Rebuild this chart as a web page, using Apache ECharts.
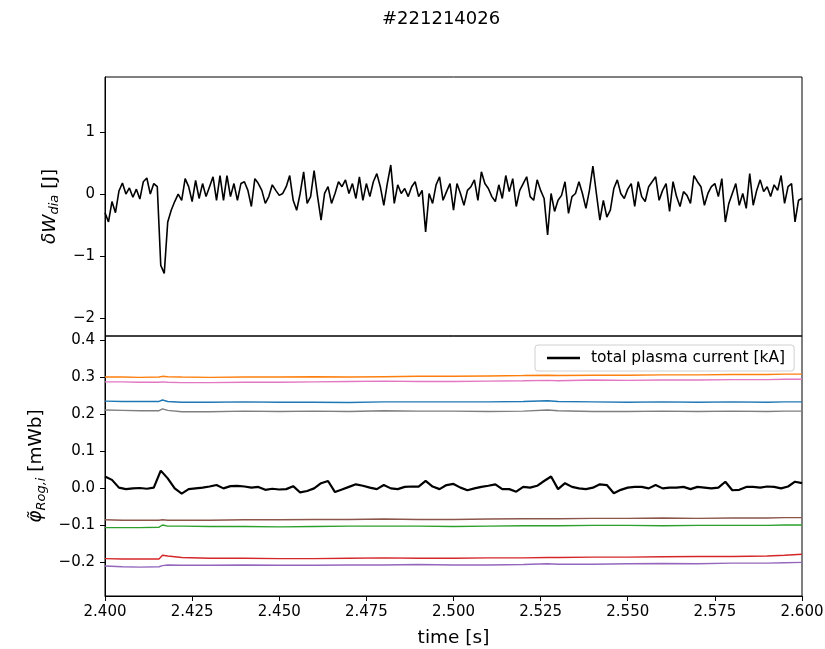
<!DOCTYPE html>
<html>
<head>
<meta charset="utf-8">
<script src="https://cdn.jsdelivr.net/npm/echarts@6/dist/echarts.min.js"></script>
<style>html,body{margin:0;padding:0;background:#fff}#c{width:825px;height:649px}</style>
</head>
<body>
<div id="c"></div>
<script>
// ---------- DATA ----------
const shotTitle = '#221214026';
const tStart = 2.400, topStep = 0.001, botStep = 0.002;
// delta W_dia [J], sampled every 1 ms from 2.400 s
const wDia = [
-0.30,-0.45,-0.12,-0.30,0.05,0.18,0.00,0.10,-0.05,0.08,
-0.08,0.20,0.26,0.00,0.17,0.12,-1.15,-1.28,-0.45,-0.26,
-0.12,0.00,-0.10,0.25,0.12,-0.12,0.22,-0.07,0.17,-0.04,
0.12,0.28,-0.10,0.30,-0.10,0.30,-0.04,0.17,-0.10,0.17,
0.20,0.06,-0.20,0.25,0.17,0.06,-0.15,-0.04,0.15,0.06,
-0.02,0.01,0.12,0.30,-0.10,-0.26,0.01,0.36,-0.15,-0.04,
0.38,-0.04,-0.42,0.01,0.12,-0.15,0.01,0.20,0.12,0.23,
0.01,0.17,-0.07,0.28,-0.10,0.17,-0.04,0.20,0.33,0.12,
-0.18,0.17,0.47,-0.15,0.15,0.01,0.09,-0.04,0.12,0.20,
-0.04,0.06,-0.61,0.01,-0.15,0.15,0.28,-0.10,0.04,0.17,
-0.26,0.17,0.01,-0.18,0.06,0.12,0.23,-0.10,0.36,0.17,
0.09,-0.04,-0.12,0.15,-0.07,0.30,0.04,0.25,-0.20,0.06,
0.17,0.28,-0.04,-0.10,0.23,0.06,-0.07,-0.66,0.01,-0.28,
-0.10,-0.02,0.20,-0.31,-0.04,0.01,0.20,0.01,-0.23,0.06,
0.45,0.01,-0.42,-0.10,-0.37,-0.26,0.09,0.23,0.01,-0.07,
0.08,0.17,-0.20,0.20,-0.04,-0.12,0.12,0.20,0.28,-0.10,
0.06,0.17,-0.28,0.20,-0.04,-0.20,0.04,-0.02,-0.15,0.30,
0.20,0.12,-0.18,0.01,0.12,0.17,-0.04,0.25,-0.45,-0.15,
0.01,0.17,-0.18,0.01,-0.23,0.33,-0.18,0.06,0.23,0.04,
0.12,-0.04,0.15,0.06,0.30,-0.15,0.12,0.17,-0.45,-0.10,
-0.07
];
// total plasma current trace (bottom panel), sampled every 2 ms from 2.400 s
const ipTrace = [
0.032,0.023,0.002,-0.002,0.000,0.001,-0.001,0.002,0.048,0.027,
0.000,-0.014,-0.002,0.000,0.002,0.005,0.009,0.000,0.006,0.007,
0.005,0.002,0.004,-0.004,-0.001,-0.003,-0.002,0.006,-0.011,-0.007,
0.000,0.014,0.020,-0.010,-0.003,0.004,0.011,0.007,0.002,-0.002,
0.009,0.000,-0.002,0.004,0.005,0.005,0.020,0.005,-0.002,0.009,
0.012,0.002,-0.005,0.000,0.004,0.007,0.011,-0.002,-0.002,-0.009,
0.004,0.002,0.007,0.020,0.032,-0.002,0.014,0.004,0.000,-0.002,
0.002,0.011,0.009,-0.013,-0.004,0.002,0.004,0.004,0.000,0.009,
0.000,0.002,0.002,0.004,-0.002,0.004,0.002,0.000,0.002,0.018,
-0.005,-0.004,0.004,0.004,0.002,0.005,0.004,0.000,0.005,0.018,
0.014
];
// Rogowski coil flux traces [mWb]
const rogTimes = [2.400,2.405,2.410,2.4155,2.4165,2.418,2.422,2.430,2.440,2.450,2.460,2.470,2.480,2.490,2.500,2.510,2.520,2.527,2.530,2.540,2.550,2.560,2.570,2.580,2.590,2.595,2.600];
const rogBlue   = [0.236,0.235,0.235,0.235,0.239,0.235,0.233,0.233,0.234,0.233,0.233,0.232,0.234,0.234,0.234,0.234,0.235,0.237,0.235,0.234,0.233,0.234,0.233,0.234,0.233,0.234,0.234];
const rogOrange = [0.301,0.301,0.300,0.301,0.303,0.302,0.301,0.300,0.301,0.301,0.302,0.301,0.302,0.303,0.303,0.304,0.305,0.306,0.305,0.306,0.306,0.307,0.307,0.308,0.308,0.309,0.309];
const rogGreen  = [-0.106,-0.106,-0.106,-0.105,-0.099,-0.102,-0.102,-0.103,-0.103,-0.104,-0.103,-0.102,-0.102,-0.102,-0.103,-0.102,-0.101,-0.101,-0.101,-0.100,-0.100,-0.101,-0.100,-0.100,-0.100,-0.099,-0.099];
const rogRed    = [-0.190,-0.191,-0.191,-0.191,-0.181,-0.183,-0.187,-0.189,-0.189,-0.190,-0.190,-0.189,-0.188,-0.189,-0.189,-0.188,-0.188,-0.187,-0.187,-0.186,-0.186,-0.185,-0.184,-0.184,-0.183,-0.181,-0.178];
const rogPurple = [-0.210,-0.212,-0.213,-0.212,-0.209,-0.207,-0.208,-0.208,-0.207,-0.208,-0.208,-0.207,-0.207,-0.206,-0.207,-0.207,-0.206,-0.204,-0.205,-0.205,-0.204,-0.203,-0.204,-0.202,-0.202,-0.201,-0.200];
const rogBrown  = [-0.085,-0.086,-0.086,-0.086,-0.085,-0.086,-0.086,-0.086,-0.085,-0.085,-0.084,-0.084,-0.083,-0.084,-0.084,-0.083,-0.082,-0.082,-0.082,-0.081,-0.081,-0.080,-0.081,-0.080,-0.080,-0.079,-0.079];
const rogPink   = [0.288,0.288,0.287,0.287,0.288,0.287,0.286,0.286,0.287,0.287,0.288,0.289,0.290,0.289,0.289,0.290,0.291,0.292,0.291,0.293,0.292,0.293,0.293,0.294,0.294,0.295,0.295];
const rogGray   = [0.212,0.211,0.210,0.210,0.215,0.211,0.207,0.207,0.209,0.208,0.209,0.208,0.210,0.209,0.209,0.208,0.209,0.212,0.210,0.208,0.208,0.209,0.208,0.209,0.208,0.209,0.209];
const xTicks = [2.400,2.425,2.450,2.475,2.500,2.525,2.550,2.575,2.600];
const yTicksTop = [-2,-1,0,1];
const yTicksBot = [-0.2,-0.1,0.0,0.1,0.2,0.3,0.4];
const ipName = 'total plasma current [kA]';

// ---------- CHART ----------
const FONT = 'DejaVu Sans';
const minus = s => String(s).replace('-', '\u2212');
const sample = (arr, step) => arr.map((v, i) => [+(tStart + i * step).toFixed(4), v]);
const pair = (ts, vs) => ts.map((t, i) => [t, vs[i]]);

const chart = echarts.init(document.getElementById('c'), null, {renderer: 'canvas'});
const grids = [
  {left: 105, top: 77, width: 697, height: 259},
  {left: 105, top: 336, width: 697, height: 260}
].map(g => Object.assign(g, {show: true, borderColor: '#000', borderWidth: 1, backgroundColor: 'transparent',
  containLabel: false, outerBoundsMode: 'none'}));

const tickStyle = {show: true, inside: false, length: 5, lineStyle: {color: '#000', width: 1}};
const labelStyle = {color: '#000', fontFamily: FONT, fontSize: 15};

const rogSeries = [
  ['#1f77b4', rogBlue], ['#ff7f0e', rogOrange], ['#2ca02c', rogGreen], ['#d62728', rogRed],
  ['#9467bd', rogPurple], ['#8c564b', rogBrown], ['#e377c2', rogPink], ['#7f7f7f', rogGray]
].map(([c, d], k) => ({
  type: 'line', name: 'rog' + k, xAxisIndex: 1, yAxisIndex: 1, data: pair(rogTimes, d),
  showSymbol: false, symbol: 'none', lineStyle: {color: c, width: 1.4}, itemStyle: {color: c},
  silent: true, animation: false, z: 2
}));

chart.setOption({
  animation: false,
  backgroundColor: '#fff',
  title: {text: shotTitle, left: 377, top: 5, textStyle: {fontFamily: FONT, fontSize: 18, fontWeight: 'normal', color: '#000'}},
  grid: grids,
  legend: {
    data: [ipName], left: 535, top: 345, icon: 'rect', itemWidth: 33, itemHeight: 2.5,
    padding: [5, 9, 5, 12], backgroundColor: '#fff', borderColor: '#d0d0d0', borderWidth: 1, borderRadius: 3,
    textStyle: {fontFamily: FONT, fontSize: 15.5, color: '#000', padding: [0, 0, 0, 6]}
  },
  xAxis: [
    {type: 'value', gridIndex: 0, min: 2.4, max: 2.6, axisLabel: {show: false}, axisTick: {show: false}, axisLine: {show: false}, splitLine: {show: false}},
    {type: 'value', gridIndex: 1, min: 2.4, max: 2.6,
     axisLine: {show: true, onZero: false, lineStyle: {color: '#000'}},
     axisTick: Object.assign({customValues: xTicks}, tickStyle),
     axisLabel: Object.assign({customValues: xTicks, margin: 9, formatter: v => v.toFixed(3)}, labelStyle),
     splitLine: {show: false},
     name: 'time [s]', nameLocation: 'middle', nameGap: 33,
     nameTextStyle: {fontFamily: FONT, fontSize: 18.5, color: '#000'}}
  ],
  yAxis: [
    {type: 'value', gridIndex: 0, min: -2.29, max: 1.89,
     axisLine: {show: true, onZero: false, lineStyle: {color: '#000'}},
     axisTick: Object.assign({customValues: yTicksTop}, tickStyle),
     axisLabel: Object.assign({customValues: yTicksTop, margin: 10, formatter: v => minus(Math.round(v))}, labelStyle),
     splitLine: {show: false},
     name: '{it|δW}{sub|dia} {n|[J]}', nameLocation: 'middle', nameGap: 44, nameMoveOverlap: false,
     nameTextStyle: {fontFamily: FONT, fontSize: 18.5, color: '#000',
       rich: {it: {fontFamily: FONT, fontSize: 18.5, fontStyle: 'italic', color: '#000'},
              sub: {fontFamily: FONT, fontSize: 13, fontStyle: 'italic', color: '#000', padding: [9, 0, 0, 0]},
              n: {fontFamily: FONT, fontSize: 18.5, color: '#000'}}}},
    {type: 'value', gridIndex: 1, min: -0.291, max: 0.412,
     axisLine: {show: true, onZero: false, lineStyle: {color: '#000'}},
     axisTick: Object.assign({customValues: yTicksBot}, tickStyle),
     axisLabel: Object.assign({customValues: yTicksBot, margin: 10, formatter: v => minus(v.toFixed(1))}, labelStyle),
     splitLine: {show: false},
     name: '{it|φ\u0303}{sub|Rog,i} {n|[mWb]}', nameLocation: 'middle', nameGap: 55,
     nameTextStyle: {fontFamily: FONT, fontSize: 18.5, color: '#000',
       rich: {it: {fontFamily: FONT, fontSize: 18.5, fontStyle: 'italic', color: '#000'},
              sub: {fontFamily: FONT, fontSize: 13, fontStyle: 'italic', color: '#000', padding: [9, 0, 0, 0]},
              n: {fontFamily: FONT, fontSize: 18.5, color: '#000'}}}}
  ],
  series: [
    {type: 'line', name: 'dW', xAxisIndex: 0, yAxisIndex: 0, data: sample(wDia, topStep),
     showSymbol: false, symbol: 'none', lineStyle: {color: '#000', width: 1.6}, silent: true},
    ...rogSeries,
    {type: 'line', name: ipName, xAxisIndex: 1, yAxisIndex: 1, data: sample(ipTrace, botStep),
     showSymbol: false, symbol: 'none', lineStyle: {color: '#000', width: 2.2}, itemStyle: {color: '#000'}, silent: true, z: 3}
  ]
});
</script>
</body>
</html>
